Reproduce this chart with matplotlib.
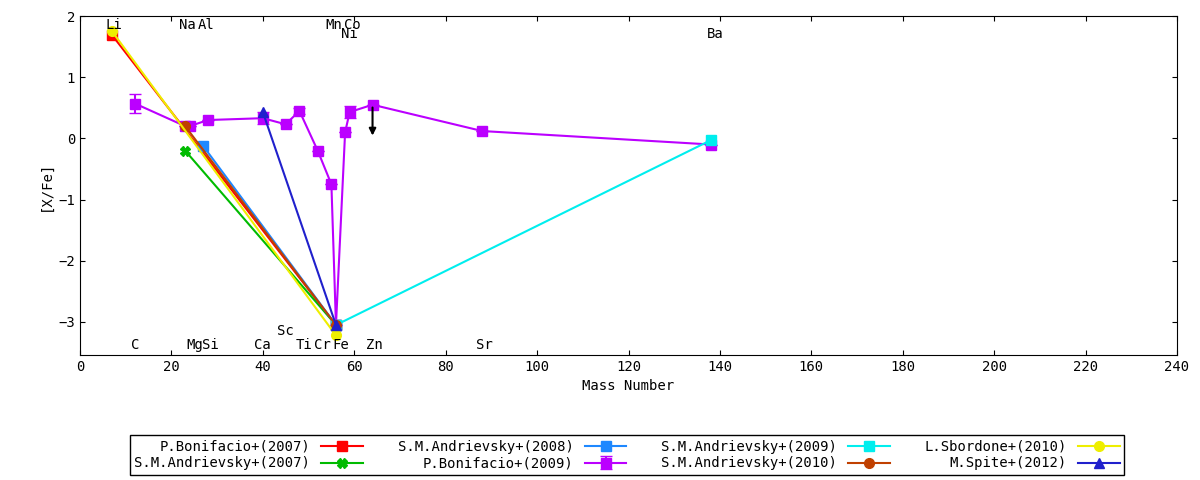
import matplotlib
matplotlib.use("Agg")
import matplotlib.pyplot as plt

plt.rcParams['font.family'] = ['DejaVu Sans Mono']
plt.rcParams['font.size'] = 10

b07_x = [7, 56]; b07_y = [1.69, -3.05]
a07_x = [23, 56]; a07_y = [-0.2, -3.05]
a08_x = [27, 56]; a08_y = [-0.13, -3.05]
b09_x = [12, 23, 24, 28, 40, 45, 48, 52, 55, 56, 58, 59, 64, 88, 138]
b09_y = [0.57, 0.2, 0.2, 0.3, 0.33, 0.23, 0.45, -0.2, -0.75, -3.05, 0.1, 0.43, 0.55, 0.12, -0.1]
b09_e = [0.15, 0, 0, 0, 0.1, 0, 0.05, 0, 0, 0, 0, 0.1, 0, 0, 0]
a09_x = [56, 138]; a09_y = [-3.05, -0.03]
a10_x = [23, 56]; a10_y = [0.2, -3.05]
s10_x = [7, 56]; s10_y = [1.75, -3.22]
sp12_x = [40, 56]; sp12_y = [0.43, -3.05]

lab_top = [("Li", 7.5, 1.85), ("Na", 23.5, 1.85), ("Al", 27.5, 1.85), ("Mn", 55.5, 1.85),
           ("Co", 59.5, 1.85), ("Ni", 59, 1.7), ("Ba", 139, 1.7)]
lab_bot = [("C", 12, -3.38), ("Mg", 25, -3.38), ("Si", 28.5, -3.38), ("Ca", 40, -3.38),
           ("Sc", 45, -3.15), ("Ti", 49, -3.38), ("Cr", 53, -3.38), ("Fe", 57, -3.38),
           ("Zn", 64.5, -3.38), ("Sr", 88.5, -3.38)]

fig = plt.figure(figsize=(12, 4.8), dpi=100)
ax = fig.add_axes([80/1200, 1-355/480, 1097/1200, 339/480])

kw = dict(lw=1.5, ms=7)
h = {}
eb = ax.errorbar(b09_x, b09_y, yerr=b09_e, color='#bb00ff', marker='s', capsize=4,
                 label='P.Bonifacio+(2009)', zorder=2, **kw)
h['b09'] = eb
h['b07'], = ax.plot(b07_x, b07_y, color='#ff0000', marker='s', label='P.Bonifacio+(2007)', zorder=3, **kw)
h['a07'], = ax.plot(a07_x, a07_y, color='#00bb00', marker='X', label='S.M.Andrievsky+(2007)', zorder=3, **kw)
h['a08'], = ax.plot(a08_x, a08_y, color='#1e88ff', marker='s', label='S.M.Andrievsky+(2008)', zorder=3, **kw)
h['a09'], = ax.plot(a09_x, a09_y, color='#00eeee', marker='s', label='S.M.Andrievsky+(2009)', zorder=3, **kw)
h['a10'], = ax.plot(a10_x, a10_y, color='#c04000', marker='o', label='S.M.Andrievsky+(2010)', zorder=3, **kw)
h['s10'], = ax.plot(s10_x, s10_y, color='#eeee00', marker='o', label='L.Sbordone+(2010)', zorder=3, **kw)
h['sp12'], = ax.plot(sp12_x, sp12_y, color='#2020cc', marker='^', label='M.Spite+(2012)', zorder=4, **kw)
ax.annotate('', xy=(64, 0.0), xytext=(64, 0.55),
            arrowprops=dict(arrowstyle='-|>', color='black', lw=1.5))

for t, x, y in lab_top + lab_bot:
    ax.text(x, y, t, ha='center', va='center')

ax.set_xlim(0, 240)
ax.set_ylim(-3.54, 2)
ax.set_xticks(range(0, 241, 20))
ax.set_yticks([-3, -2, -1, 0, 1, 2])
ax.tick_params(direction='in', top=True, right=True)
ax.set_xlabel('Mass Number')
ax.set_ylabel('[X/Fe]')

order = ['b07', 'a07', 'a08', 'b09', 'a09', 'a10', 's10', 'sp12']
leg = fig.legend([h[k] for k in order], [h[k].get_label() for k in order],
                 loc='center', bbox_to_anchor=(627/1200, 1-455/480), ncol=4,
                 markerfirst=False, fancybox=False, edgecolor='black',
                 handlelength=3, columnspacing=2.5, borderpad=0.3, labelspacing=0.2,
                 framealpha=1)
for t in leg.get_texts():
    t.set_ha('right')
fig.savefig('out.png', dpi=100)
